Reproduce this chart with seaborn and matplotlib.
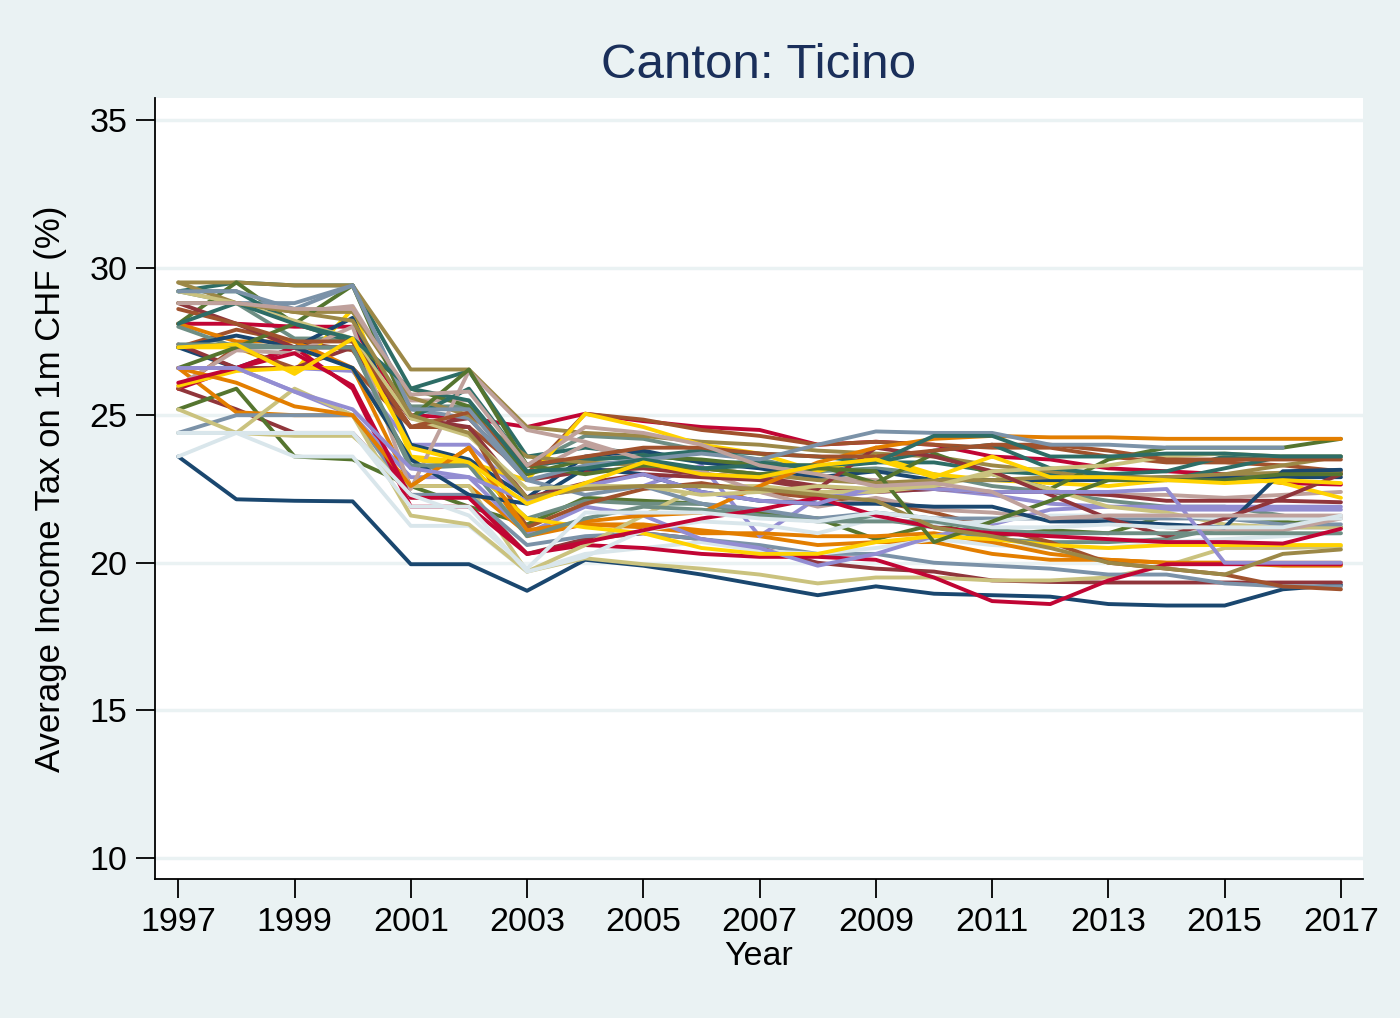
import numpy as np
import pandas as pd
import matplotlib
matplotlib.use("Agg")
import matplotlib.pyplot as plt
import seaborn as sns

years = list(range(1997, 2018))
nan = np.nan

# Stata s2color cycle
stata_colors = ["#1a476f", "#90353b", "#55752f", "#e37e00", "#6e8e84",
                "#c10534", "#938dd2", "#cac27e", "#a0522d", "#7b92a8",
                "#2d6d66", "#9c8847", "#bfa19c", "#ffd200", "#d9e6eb"]

# average tax rate per municipality, 1997..2017
s00 = [23.6, 22.15, 22.1, 22.08, 19.95, 19.95, 19.05, 20.1, 19.9, 19.6, 19.25, 18.9, 19.2, 18.95, 18.9, 18.85, 18.6, 18.55, 18.55, 19.1, 19.25]
s01 = [25.9, 25.2, 24.4, 24.4, 22.3, 22.3, 20.3, 20.8, 21.0, 20.8, 20.5, 20.0, 19.8, 19.7, 19.4, 19.35, 19.33, 19.33, 19.33, 19.33, 19.33]
s02 = [25.2, 25.9, 23.6, 23.5, 22.6, 21.9, 21.3, 22.2, 22.1, 22.0, 21.7, 21.5, 20.8, 21.3, 20.9, 21.1, 21.0, 21.6, 21.5, 21.4, 21.2]
s03 = [26.6, 25.1, 25.0, 25.0, 22.6, 22.6, 21.0, 21.3, 21.3, 21.1, 20.9, 20.6, 20.7, 20.7, 20.3, 20.1, 20.1, 20.0, 20.0, 20.0, 20.0]
s04 = [29.2, 28.8, 27.6, 27.6, 25.3, 25.3, 23.3, 24.3, 24.2, 23.8, 23.5, 23.1, 23.2, 23.0, 22.6, 22.4, 22.1, 21.9, 21.9, 21.6, 21.2]
s05 = [28.1, 28.1, 28.0, 28.0, 25.0, 24.9, 24.6, 25.05, 24.8, 24.6, 24.5, 24.0, 24.1, 24.0, 23.6, 23.5, 23.2, 23.1, 23.0, 22.7, 22.65]
s06 = [26.6, 26.6, 26.6, 26.5, 24.0, 24.0, 22.2, 22.5, 22.6, 23.3, 20.9, 22.2, 22.4, 22.5, 22.3, 22.0, 21.9, 21.8, 21.8, 21.8, 21.8]
s07 = [24.4, 24.4, 24.3, 24.3, 22.6, 22.6, 19.7, 20.15, 19.95, 19.8, 19.6, 19.3, 19.5, 19.5, 19.4, 19.4, 19.5, 19.9, 20.5, 20.5, 20.55]
s08 = [27.3, 27.9, 27.5, 27.2, 24.6, 24.6, 23.0, 25.05, 24.85, 24.5, 24.3, 24.0, 24.1, 24.0, 23.9, 23.9, 23.6, 23.4, 23.4, 23.3, 23.1]
s09 = [24.4, 25.0, 25.0, 25.0, 22.3, 22.3, 20.6, 20.9, 21.0, 20.8, 20.6, 20.3, 20.3, 20.0, 19.9, 19.8, 19.6, 19.6, 19.3, 19.2, 19.2]
s10 = [29.2, 29.5, 29.4, 29.4, 25.9, 26.5, 23.6, 23.9, 23.7, 23.4, 23.4, 23.2, 23.4, 23.4, 23.1, 23.0, 23.0, 22.8, 23.2, 23.6, 23.6]
s11 = [29.5, 29.5, 29.4, 29.4, 26.55, 26.55, 24.6, 24.4, 24.3, 24.1, 24.0, 23.8, 23.7, 23.6, 23.3, 23.1, 22.8, 22.8, 23.0, 23.3, 23.6]
s12 = [28.8, 28.8, 28.5, 28.7, 25.5, 25.5, 23.0, 24.0, 23.4, 23.2, 23.0, 22.9, 22.8, 22.5, 22.4, 22.4, 22.3, 22.3, 22.2, 22.3, 22.4]
s13 = [27.3, 27.3, 26.5, 28.6, 23.6, 23.4, 22.8, 25.05, 24.6, 24.0, 23.7, 23.1, 23.6, 23.0, 22.8, 22.7, 22.6, 22.8, 22.9, 22.7, 22.2]
s14 = [24.4, 24.4, 23.6, 23.6, 21.25, 21.25, 19.7, 20.3, 20.5, 20.7, 20.4, 20.3, 20.5, 20.8, 20.6, 20.5, 20.5, 20.7, 20.8, 20.9, 21.0]
s15 = [27.3, 26.6, 27.3, 28.3, 24.0, 23.5, 22.2, 23.6, 23.8, 23.4, 23.2, 22.9, 23.1, 22.8, 22.8, 22.8, 22.8, 22.9, 22.9, 22.9, 22.9]
s16 = [27.4, 26.6, 26.6, 27.3, 24.6, 24.9, 22.8, 23.1, 23.2, 23.0, 22.9, 22.6, 22.4, 22.5, 22.4, 22.4, 22.3, 22.1, 22.1, 22.1, 22.05]
s17 = [28.1, 29.5, 28.1, 27.5, 25.9, 25.3, 23.0, 23.5, 23.6, 23.5, 23.3, 23.3, 22.7, 23.7, 23.0, 22.5, 23.5, 23.9, 23.9, 23.9, 24.2]
s18 = [28.1, 27.5, 27.5, 26.6, 22.6, 23.9, 20.9, 21.3, 21.2, 21.0, 21.0, 20.9, 20.9, 21.0, 20.7, 20.3, 20.1, 20.0, 20.0, 19.9, 19.9]
s19 = [28.0, 27.3, 27.3, 27.3, 23.2, 23.3, 21.5, 22.1, 22.0, 22.0, 21.6, 21.5, 21.5, 21.2, 20.8, 20.7, 20.7, 20.8, 21.2, 21.2, 21.2]
s20 = [25.9, 26.6, 27.3, 25.9, 21.9, 21.9, 20.3, 20.6, 20.5, 20.3, 20.2, 20.2, 20.1, 19.5, 18.7, 18.6, 19.4, 19.95, 19.95, 19.95, 19.95]
s21 = [26.6, 26.6, 25.8, 25.0, 22.9, 22.9, 21.0, 21.9, 21.6, 20.8, 20.5, 19.9, 20.3, 20.9, 21.3, 21.8, 21.9, 21.9, 21.9, 21.9, 21.9]
s22 = [25.2, 24.4, 25.9, 25.0, 21.6, 21.3, 19.7, 20.6, 21.6, 22.6, 22.6, 22.4, 22.4, 22.6, 23.0, 22.5, 21.9, 21.7, 21.3, 21.2, 21.2]
s23 = [25.9, 27.3, 26.6, 26.6, 24.6, 24.6, 21.2, 22.0, 22.5, 22.7, 22.4, 22.2, 22.1, 21.7, 21.2, 20.7, 20.0, 19.8, 19.6, 19.2, 19.1]
s24 = [28.8, 28.8, 28.8, 29.4, 25.2, 24.9, 22.8, 22.3, 22.6, 22.0, 21.8, 21.5, 21.7, 21.5, 21.5, 21.5, 21.5, 21.5, 21.5, 21.3, 21.3]
s25 = [29.2, 29.2, 28.1, 27.5, 24.9, 25.9, 23.3, 23.5, 23.6, 23.8, 23.7, 23.6, 23.4, 23.8, 24.0, 23.2, 23.0, 23.1, 23.6, 23.6, 23.6]
s26 = [29.5, 28.8, 28.5, 28.5, 25.6, 25.0, 23.6, 23.4, 23.3, 23.2, 23.0, 22.8, 22.7, 22.8, 22.8, 22.9, 22.9, 22.9, 23.0, 23.05, 23.05]
s27 = [26.0, 27.2, 27.1, 28.0, 22.5, 26.5, 24.5, 24.1, 23.5, 23.1, 22.4, 21.9, 22.2, 21.8, 21.7, 21.5, 21.4, 21.2, 21.1, 21.1, 21.5]
s28 = [26.0, 26.5, 26.6, 26.6, 23.5, 23.3, 21.5, 21.2, 21.0, 20.5, 20.3, 20.3, 20.7, 20.9, 20.8, 20.6, 20.5, 20.6, 20.6, 20.6, 20.6]
s29 = [23.6, 24.4, 24.4, 24.4, 21.9, 21.9, 19.7, 20.2, 21.1, 21.4, 21.3, 21.0, 21.5, 21.3, 21.4, 21.6, 21.6, 21.6, 21.5, 21.5, 21.5]
s30 = [27.3, 27.7, 27.3, 26.6, 23.5, 22.3, 22.0, 23.2, 23.0, 22.4, 22.1, 22.0, 22.0, 21.9, 21.9, 21.4, 21.4, 21.3, 21.2, 23.1, 23.15]
s31 = [28.8, 28.1, 27.3, 27.3, 24.9, 24.6, 22.2, 22.7, 23.0, 22.9, 22.8, 22.5, 23.9, 23.6, 23.1, 22.3, 21.5, 20.9, 21.5, 22.2, 23.0]
s32 = [26.6, 27.3, 28.1, 29.4, 24.9, 26.55, 23.3, 23.0, 23.3, 23.2, 23.0, 23.2, 23.1, 20.7, 21.4, 22.1, 22.8, 22.8, 22.8, 23.0, 23.0]
s33 = [26.6, 26.1, 25.3, 25.0, 22.6, 23.9, 21.1, 21.4, 21.6, 21.7, 22.6, 23.4, 23.9, 24.2, 24.3, 24.25, 24.25, 24.2, 24.2, 24.2, 24.2]
s34 = [27.4, 27.4, 27.3, 27.3, 23.3, 23.3, 20.9, 21.5, 21.9, 21.8, 21.6, 21.4, 21.4, 21.4, 21.1, 21.0, 21.0, 21.0, 21.0, 21.0, 21.0]
s35 = [26.1, 26.6, 27.1, 26.0, 22.2, 22.2, 20.3, 20.7, 21.1, 21.5, 21.8, 22.2, 21.6, 21.2, 21.0, 20.9, 20.8, 20.7, 20.7, 20.65, 21.15]
s36 = [26.6, 26.6, 25.8, 25.2, 23.2, 22.9, 22.1, 22.6, 23.0, 22.4, 22.1, 22.0, 22.6, 22.5, 22.4, 22.4, 22.4, 22.5, 20.0, 20.0, 20.0]
s37 = [29.2, 28.8, 28.2, 27.6, 24.9, 24.3, 22.5, 22.6, 22.6, 22.3, 22.4, 22.6, 22.5, 22.6, 23.1, 23.2, 23.3, 23.6, 23.7, 23.6, 23.6]
s38 = [28.6, 28.1, 27.5, 27.5, 24.6, 25.1, 23.3, 23.6, 23.9, 23.9, 23.7, 23.6, 23.6, 23.8, 24.0, 24.0, 23.8, 23.5, 23.5, 23.5, 23.5]
s39 = [29.2, 29.2, 28.6, 29.4, 25.2, 25.2, 22.8, 23.3, 23.5, 23.7, 23.5, 24.0, 24.45, 24.4, 24.4, 24.0, 24.0, 23.9, 23.9, 23.9, nan]
s40 = [28.1, 28.8, 28.1, 27.6, 25.9, 25.5, 23.1, 23.2, 23.5, 23.2, 23.3, 23.3, 23.4, 24.3, 24.3, 23.6, 23.6, 23.7, 23.7, 23.6, 23.6]
s41 = [28.8, 28.8, 28.5, 28.2, 25.0, 24.4, 22.2, 22.5, 22.6, 22.6, 22.5, 22.3, 22.1, 21.2, 20.9, 20.5, 20.0, 19.8, 19.6, 20.3, 20.45]
s42 = [28.8, 28.8, 28.6, 28.6, 25.7, 25.8, 23.3, 24.6, 24.4, 24.0, 23.3, 23.0, 22.6, 22.7, 22.4, 21.5, 21.6, 21.6, 21.6, 21.6, 21.6]
s43 = [27.3, 27.4, 26.4, 27.6, 23.9, 23.4, 22.0, 22.7, 23.4, 23.0, 22.9, 23.3, 23.5, 22.9, 23.6, 22.9, 22.9, 22.8, 22.7, 22.8, 22.7]
s44 = [24.4, 24.4, 24.4, 24.4, 22.3, 21.6, 19.8, 21.7, 21.7, 21.7, 21.5, 21.4, 21.7, 21.5, 21.2, 21.2, 21.3, 21.2, 21.2, 21.2, 21.6]

series = [s00, s01, s02, s03, s04, s05, s06, s07, s08, s09, s10, s11, s12, s13, s14,
          s15, s16, s17, s18, s19, s20, s21, s22, s23, s24, s25, s26, s27, s28, s29,
          s30, s31, s32, s33, s34, s35, s36, s37, s38, s39, s40, s41, s42, s43, s44]

rows = []
for i, vals in enumerate(series):
    for yr, v in zip(years, vals):
        rows.append({"muni": i, "year": yr, "tax": v})
df = pd.DataFrame(rows)

palette = [stata_colors[i % len(stata_colors)] for i in range(len(series))]

sns.set_style("white")
plt.rcParams['font.family'] = ['Liberation Sans', 'DejaVu Sans']
plt.rcParams['text.color'] = 'black'
plt.rcParams['axes.labelcolor'] = 'black'
plt.rcParams['xtick.color'] = 'black'
plt.rcParams['ytick.color'] = 'black'

bg = "#eaf2f3"
fig = plt.figure(figsize=(14, 10.18), dpi=100, facecolor=bg)
ax = fig.add_axes([0.1107, 0.1365, 0.8629, 0.7672])
ax.set_facecolor("white")

for y in [10, 15, 20, 25, 30, 35]:
    ax.axhline(y, color=bg, lw=2.5, zorder=0)

n_grid = len(ax.get_lines())
sns.lineplot(data=df, x="year", y="tax", hue="muni", palette=palette,
             legend=False, linewidth=2.8, ax=ax, estimator=None, sort=True)
for ln in ax.get_lines()[n_grid:]:
    ln.set_linewidth(2.8)

ax.set_xlim(1996.6, 2017.38)
ax.set_ylim(9.28, 35.75)
ax.set_xticks(range(1997, 2018, 2))
ax.set_yticks([10, 15, 20, 25, 30, 35])
ax.tick_params(axis="both", labelsize=24.5, length=14, width=1.3, colors="black",
               direction="out", pad=6, left=True, bottom=True)
for side in ["top", "right"]:
    ax.spines[side].set_visible(False)
for side in ["left", "bottom"]:
    ax.spines[side].set_linewidth(1.3)
    ax.spines[side].set_color("black")

ax.set_xlabel("Year", fontsize=24.5, labelpad=2, color="black")
ax.set_ylabel("Average Income Tax on 1m CHF (%)", fontsize=25, labelpad=16, color="black")
fig.text(0.542, 0.936, "Canton: Ticino", ha="center", va="center",
         fontsize=35.5, color="#1a2f5a")

fig.savefig("out.png", dpi=100, facecolor=bg)
